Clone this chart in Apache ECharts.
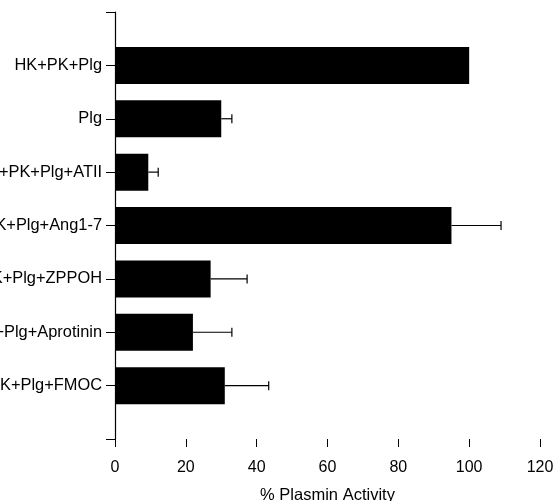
<!DOCTYPE html>
<html>
<head>
<meta charset="utf-8">
<script src="https://cdn.jsdelivr.net/npm/echarts@6/dist/echarts.min.js"></script>
<style>
  html, body { margin: 0; padding: 0; background: #fff; }
  #display { width: 554px; height: 501px; }
</style>
</head>
<body>
<div id="display"></div>
<script>
// 类别（上下各留一个空位）
var categories = ['', 'HK+PK+Plg', 'Plg', 'HK+PK+Plg+ATII', 'HK+PK+Plg+Ang1-7', 'HK+PK+Plg+ZPPOH', 'HK+PK+Plg+Aprotinin', 'HK+PK+Plg+FMOC', ''];
// 平均值 (% Plasmin Activity)
var activity = ['-', 100, 30, 9.4, 95, 27, 22, 31, '-'];
// 误差上限
var errorHigh = [null, null, 33, 12.2, 109, 37.3, 33, 43.4, null];
var xTicks = [0, 20, 40, 60, 80, 100, 120];

var errData = [];
for (var i = 0; i < categories.length; i++) {
    if (errorHigh[i] != null) {
        errData.push([activity[i], i, errorHigh[i]]);
    }
}

var myDisplay = echarts.init(document.getElementById('display'));
var font = '"Liberation Sans", Arial, sans-serif';

myDisplay.setOption({
    animation: false,
    grid: { left: 115, right: 14, top: 12, bottom: 62, containLabel: false, outerBoundsMode: 'none' },
    xAxis: {
        type: 'value',
        min: xTicks[0],
        max: xTicks[xTicks.length - 1],
        interval: 20,
        name: '% Plasmin Activity',
        nameLocation: 'middle',
        nameGap: 48,
        nameTextStyle: { color: '#000', fontSize: 16.5, fontFamily: font },
        axisLine: { lineStyle: { color: '#000', width: 1.2 } },
        axisTick: { show: true, length: 8, lineStyle: { color: '#000', width: 1 } },
        axisLabel: { color: '#000', fontSize: 16, fontFamily: font, margin: 21 },
        splitLine: { show: false }
    },
    yAxis: {
        type: 'category',
        data: categories,
        inverse: true,
        boundaryGap: false,
        axisLine: { lineStyle: { color: '#000', width: 1.2 } },
        axisTick: { show: true, length: 9, interval: 0, lineStyle: { color: '#000', width: 1 } },
        axisLabel: { color: '#000', fontSize: 16.4, fontFamily: font, margin: 13, interval: 0 },
        splitLine: { show: false }
    },
    series: [{
        type: 'bar',
        data: activity,
        barWidth: 37,
        itemStyle: { color: '#000' }
    }, {
        type: 'custom',
        data: errData,
        z: 3,
        renderItem: function (params, api) {
            var start = api.coord([api.value(0), api.value(1)]);
            var end = api.coord([api.value(2), api.value(1)]);
            var style = { stroke: '#000', lineWidth: 1.2 };
            return {
                type: 'group',
                children: [{
                    type: 'line',
                    shape: { x1: start[0], y1: start[1], x2: end[0], y2: end[1] },
                    style: style
                }, {
                    type: 'line',
                    shape: { x1: end[0], y1: end[1] - 4.5, x2: end[0], y2: end[1] + 4.5 },
                    style: style
                }]
            };
        }
    }]
});
</script>
</body>
</html>
